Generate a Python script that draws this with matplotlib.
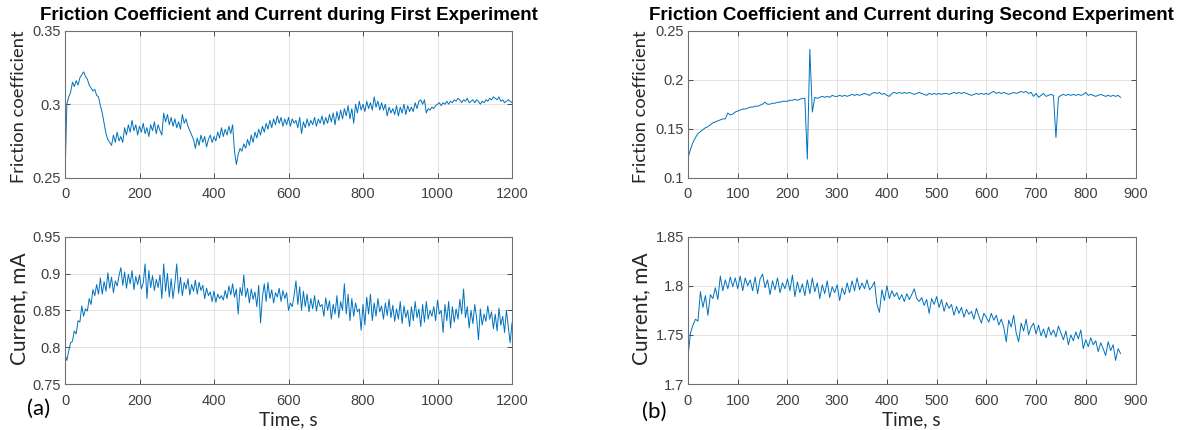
import numpy as np
import matplotlib
matplotlib.use("Agg")
import matplotlib.pyplot as plt

# ---------------- data ----------------
exp1_step = 5  # s
exp1_friction = [
    0.250, 0.300, 0.305, 0.308, 0.315, 0.312, 0.316, 0.313, 0.318, 0.320,
    0.322, 0.319, 0.317, 0.313, 0.311, 0.309, 0.310, 0.306, 0.305, 0.299,
    0.294, 0.287, 0.280, 0.276, 0.274, 0.272, 0.279, 0.274, 0.281, 0.275,
    0.278, 0.274, 0.284, 0.279, 0.286, 0.281, 0.289, 0.282, 0.286, 0.279,
    0.285, 0.281, 0.287, 0.280, 0.284, 0.278, 0.286, 0.282, 0.288, 0.280,
    0.286, 0.282, 0.279, 0.294, 0.288, 0.293, 0.286, 0.291, 0.285, 0.290,
    0.284, 0.288, 0.283, 0.293, 0.287, 0.290, 0.285, 0.282, 0.279, 0.276,
    0.270, 0.277, 0.272, 0.279, 0.274, 0.278, 0.271, 0.276, 0.279, 0.274,
    0.278, 0.275, 0.281, 0.277, 0.284, 0.278, 0.283, 0.279, 0.285, 0.280,
    0.286, 0.268, 0.259, 0.266, 0.270, 0.268, 0.273, 0.270, 0.276, 0.272,
    0.279, 0.274, 0.281, 0.277, 0.283, 0.279, 0.285, 0.281, 0.287, 0.283,
    0.289, 0.284, 0.290, 0.286, 0.292, 0.287, 0.291, 0.285, 0.290, 0.286,
    0.291, 0.285, 0.290, 0.287, 0.289, 0.284, 0.291, 0.280, 0.288, 0.284,
    0.290, 0.285, 0.289, 0.286, 0.291, 0.285, 0.290, 0.287, 0.292, 0.286,
    0.291, 0.287, 0.293, 0.288, 0.294, 0.286, 0.295, 0.289, 0.296, 0.290,
    0.297, 0.292, 0.299, 0.290, 0.297, 0.287, 0.300, 0.294, 0.302, 0.296,
    0.300, 0.295, 0.302, 0.297, 0.301, 0.296, 0.305, 0.298, 0.302, 0.296,
    0.301, 0.296, 0.300, 0.292, 0.298, 0.294, 0.297, 0.293, 0.299, 0.292,
    0.298, 0.294, 0.300, 0.293, 0.299, 0.295, 0.298, 0.295, 0.301, 0.297,
    0.302, 0.303, 0.300, 0.303, 0.294, 0.297, 0.296, 0.298, 0.297, 0.299,
    0.300, 0.301, 0.299, 0.301, 0.300, 0.302, 0.300, 0.302, 0.301, 0.303,
    0.302, 0.304, 0.303, 0.301, 0.303, 0.302, 0.304, 0.301, 0.302, 0.303,
    0.301, 0.303, 0.302, 0.300, 0.302, 0.301, 0.303, 0.302, 0.304, 0.303,
    0.305, 0.304, 0.303, 0.305, 0.302, 0.303, 0.301, 0.302, 0.303, 0.302,
    0.301,
]
exp1_current = [
    0.790, 0.782, 0.795, 0.806, 0.808, 0.822, 0.818, 0.836, 0.834, 0.856,
    0.842, 0.852, 0.849, 0.866, 0.858, 0.878, 0.870, 0.885, 0.872, 0.894,
    0.872, 0.889, 0.876, 0.901, 0.880, 0.895, 0.874, 0.890, 0.883, 0.897,
    0.908, 0.884, 0.902, 0.880, 0.899, 0.886, 0.904, 0.878, 0.896, 0.885,
    0.898, 0.879, 0.887, 0.913, 0.866, 0.904, 0.881, 0.897, 0.877, 0.892,
    0.881, 0.898, 0.866, 0.913, 0.876, 0.900, 0.868, 0.893, 0.866, 0.887,
    0.913, 0.873, 0.895, 0.870, 0.888, 0.879, 0.893, 0.871, 0.885, 0.876,
    0.891, 0.872, 0.888, 0.877, 0.884, 0.866, 0.880, 0.870, 0.875, 0.862,
    0.876, 0.861, 0.872, 0.866, 0.870, 0.864, 0.877, 0.866, 0.883, 0.871,
    0.886, 0.868, 0.879, 0.845, 0.881, 0.870, 0.898, 0.868, 0.880, 0.860,
    0.879, 0.865, 0.875, 0.855, 0.884, 0.833, 0.868, 0.886, 0.862, 0.888,
    0.866, 0.878, 0.860, 0.874, 0.868, 0.880, 0.862, 0.877, 0.866, 0.874,
    0.850, 0.860, 0.855, 0.870, 0.890, 0.858, 0.882, 0.850, 0.876, 0.855,
    0.872, 0.848, 0.866, 0.852, 0.870, 0.849, 0.864, 0.855, 0.858, 0.842,
    0.867, 0.850, 0.863, 0.838, 0.858, 0.845, 0.870, 0.840, 0.862, 0.850,
    0.886, 0.845, 0.872, 0.836, 0.866, 0.842, 0.860, 0.848, 0.852, 0.823,
    0.858, 0.830, 0.868, 0.845, 0.872, 0.836, 0.860, 0.842, 0.866, 0.848,
    0.856, 0.838, 0.860, 0.843, 0.865, 0.840, 0.857, 0.835, 0.852, 0.838,
    0.862, 0.832, 0.856, 0.840, 0.850, 0.828, 0.855, 0.836, 0.862, 0.840,
    0.852, 0.828, 0.858, 0.834, 0.862, 0.838, 0.850, 0.842, 0.855, 0.836,
    0.864, 0.845, 0.850, 0.820, 0.858, 0.836, 0.862, 0.826, 0.855, 0.834,
    0.852, 0.838, 0.865, 0.845, 0.879, 0.840, 0.855, 0.826, 0.850, 0.832,
    0.858, 0.840, 0.810, 0.852, 0.830, 0.845, 0.835, 0.856, 0.838, 0.848,
    0.825, 0.845, 0.822, 0.853, 0.830, 0.842, 0.820, 0.850, 0.828, 0.806,
    0.833,
]

exp2_step = 5  # s
exp2_friction = [
    0.120, 0.129, 0.136, 0.141, 0.145, 0.147, 0.149, 0.151, 0.152, 0.154,
    0.156, 0.157, 0.158, 0.159, 0.160, 0.160, 0.166, 0.164, 0.165, 0.167,
    0.168, 0.169, 0.170, 0.170, 0.171, 0.172, 0.172, 0.173, 0.173, 0.174,
    0.175, 0.177, 0.175, 0.175, 0.176, 0.176, 0.177, 0.177, 0.178, 0.178,
    0.178, 0.179, 0.179, 0.180, 0.179, 0.180, 0.181, 0.181, 0.119, 0.231,
    0.167, 0.182, 0.181, 0.182, 0.183, 0.182, 0.183, 0.182, 0.184, 0.183,
    0.183, 0.184, 0.183, 0.184, 0.183, 0.184, 0.185, 0.184, 0.185, 0.184,
    0.185, 0.186, 0.185, 0.184, 0.186, 0.187, 0.186, 0.187, 0.185, 0.186,
    0.184, 0.183, 0.186, 0.187, 0.186, 0.187, 0.186, 0.187, 0.186, 0.187,
    0.186, 0.185, 0.186, 0.187, 0.186, 0.185, 0.184, 0.186, 0.185, 0.186,
    0.185, 0.186, 0.185, 0.186, 0.186, 0.185, 0.186, 0.187, 0.186, 0.187,
    0.186, 0.187, 0.186, 0.185, 0.184, 0.185, 0.186, 0.185, 0.186, 0.185,
    0.186, 0.185, 0.187, 0.188, 0.186, 0.187, 0.186, 0.187, 0.186, 0.185,
    0.186, 0.187, 0.186, 0.187, 0.188, 0.187, 0.188, 0.186, 0.187, 0.183,
    0.186, 0.182, 0.184, 0.186, 0.183, 0.184, 0.185, 0.184, 0.141, 0.182,
    0.184, 0.185, 0.184, 0.185, 0.184, 0.185, 0.184, 0.185, 0.184, 0.185,
    0.187, 0.184, 0.185, 0.184, 0.183, 0.184, 0.185, 0.184, 0.183, 0.184,
    0.183, 0.184, 0.183, 0.184, 0.182,
]
exp2_current = [
    1.728, 1.752, 1.760, 1.766, 1.764, 1.794, 1.778, 1.790, 1.770, 1.791,
    1.787, 1.798, 1.786, 1.810, 1.795, 1.806, 1.797, 1.809, 1.799, 1.808,
    1.797, 1.810, 1.795, 1.808, 1.800, 1.806, 1.795, 1.809, 1.792, 1.807,
    1.812, 1.798, 1.806, 1.791, 1.805, 1.796, 1.808, 1.793, 1.803, 1.797,
    1.807, 1.795, 1.811, 1.789, 1.804, 1.793, 1.802, 1.790, 1.806, 1.792,
    1.808, 1.794, 1.803, 1.787, 1.801, 1.792, 1.805, 1.788, 1.799, 1.793,
    1.801, 1.785, 1.798, 1.791, 1.803, 1.793, 1.805, 1.795, 1.808, 1.796,
    1.803, 1.797, 1.806, 1.796, 1.799, 1.804, 1.781, 1.773, 1.796, 1.785,
    1.800, 1.787, 1.795, 1.789, 1.793, 1.786, 1.791, 1.784, 1.792, 1.786,
    1.791, 1.797, 1.787, 1.784, 1.788, 1.780, 1.786, 1.772, 1.787, 1.781,
    1.789, 1.778, 1.786, 1.774, 1.783, 1.777, 1.781, 1.770, 1.779, 1.772,
    1.778, 1.768, 1.776, 1.771, 1.774, 1.766, 1.777, 1.769, 1.762, 1.772,
    1.768, 1.763, 1.772, 1.765, 1.770, 1.760, 1.766, 1.758, 1.743, 1.765,
    1.758, 1.770, 1.752, 1.743, 1.762, 1.754, 1.766, 1.750, 1.758, 1.762,
    1.751, 1.760, 1.749, 1.756, 1.747, 1.758, 1.750, 1.755, 1.748, 1.759,
    1.752, 1.745, 1.754, 1.740, 1.750, 1.744, 1.753, 1.746, 1.755, 1.736,
    1.745, 1.738, 1.747, 1.740, 1.744, 1.733, 1.742, 1.736, 1.729, 1.743,
    1.734, 1.740, 1.724, 1.736, 1.731,
]

titles = ["Friction Coefficient and Current during First Experiment",
          "Friction Coefficient and Current during Second Experiment"]
panel_labels = ["(a)", "(b)"]
x_ticks = [[0, 200, 400, 600, 800, 1000, 1200],
           [0, 100, 200, 300, 400, 500, 600, 700, 800, 900]]
fric_ticks = [[0.25, 0.3, 0.35], [0.1, 0.15, 0.2, 0.25]]
curr_ticks = [[0.75, 0.8, 0.85, 0.9, 0.95], [1.7, 1.75, 1.8, 1.85]]

# ---------------- figure ----------------
W, H = 1181, 430
fig = plt.figure(figsize=(W / 100, H / 100), dpi=100)

LINE = "#0072BD"
TICKC = "#404040"
LABEL_FONT = ["Lato", "DejaVu Sans"]
TICK_FONT = ["Liberation Sans", "DejaVu Sans"]


def px_rect(x0, y0, x1, y1):
    return [x0 / W, 1 - y1 / H, (x1 - x0) / W, (y1 - y0) / H]


def style(ax, xt, yt, xlim, ylim):
    ax.set_xlim(*xlim)
    ax.set_ylim(*ylim)
    ax.set_xticks(xt)
    ax.set_yticks(yt)
    ax.set_xticklabels([f"{v:g}" for v in xt])
    ax.set_yticklabels([f"{v:g}" for v in yt])
    ax.grid(True, color="#dedede", lw=0.6)
    ax.set_axisbelow(True)
    ax.tick_params(direction="in", length=3.5, width=0.6, color="#333333",
                   labelcolor=TICKC, labelsize=10.5, top=True, right=True)
    ax.tick_params(axis="x", pad=7)
    ax.tick_params(axis="y", pad=3)
    for lab in ax.get_xticklabels() + ax.get_yticklabels():
        lab.set_family(TICK_FONT)
    for s in ax.spines.values():
        s.set_color("#707070")
        s.set_linewidth(0.8)


panels = [
    (65, 512, exp1_step, exp1_friction, exp1_current, (0, 1200), (0.25, 0.35), (0.75, 0.95)),
    (688, 1135.5, exp2_step, exp2_friction, exp2_current, (0, 900), (0.1, 0.25), (1.7, 1.85)),
]

ylabel_x = [19, 641]
panel_lab = [(39, 409), (654, 412)]

for i, (x0, x1, step, fric, curr, xlim, fl, cl) in enumerate(panels):
    t = np.arange(len(fric)) * step
    ax1 = fig.add_axes(px_rect(x0, 30.7, x1, 177.7))
    ax1.plot(t, fric, color=LINE, lw=0.7)
    style(ax1, x_ticks[i], fric_ticks[i], xlim, fl)

    t2 = np.arange(len(curr)) * step
    ax2 = fig.add_axes(px_rect(x0, 236.7, x1, 384))
    ax2.plot(t2, curr, color=LINE, lw=0.7)
    style(ax2, x_ticks[i], curr_ticks[i], xlim, cl)

    xc = (x0 + x1) / 2
    fig.text(xc / W, 1 - 19.5 / H, titles[i], ha="center", va="baseline",
             fontsize=13.5, fontweight="bold", family=TICK_FONT, color="black")
    fig.text(ylabel_x[i] / W, 1 - 107 / H, "Friction coefficient", rotation=90,
             ha="center", va="center", fontsize=13.2, family=LABEL_FONT, color="#262626")
    fig.text(ylabel_x[i] / W, 1 - 309 / H, "Current, mA", rotation=90,
             ha="center", va="center", fontsize=15, family=LABEL_FONT, color="#262626")
    fig.text(xc / W, 1 - 420 / H, "Time, s", ha="center", va="center",
             fontsize=13.6, family=LABEL_FONT, color="#262626")
    fig.text(panel_lab[i][0] / W, 1 - panel_lab[i][1] / H, panel_labels[i],
             ha="center", va="center", fontsize=16, family=LABEL_FONT, color="black")

fig.savefig("out.png", dpi=100)
